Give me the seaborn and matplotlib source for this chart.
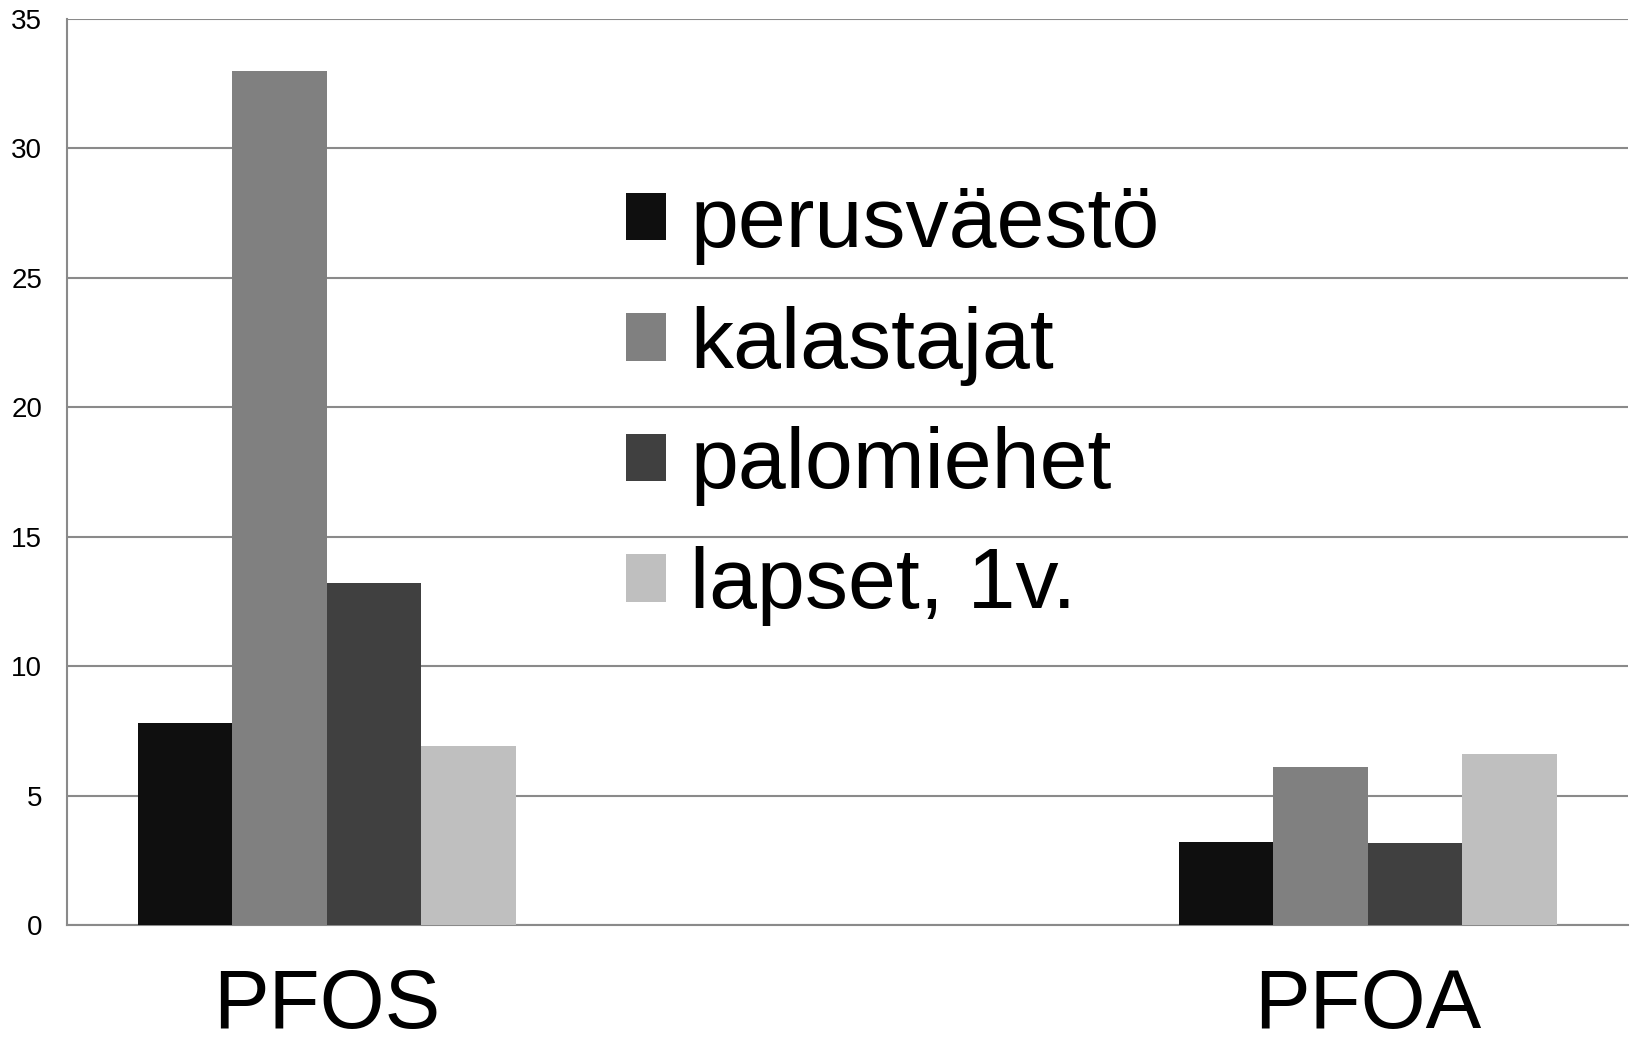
import pandas as pd
import numpy as np
import seaborn as sns
import matplotlib.pyplot as plt

aineet = ['PFOS', 'PFOA']
ryhmat = ['perusväestö', 'kalastajat', 'palomiehet', 'lapset, 1v.']
perusvaesto = [7.8, 3.2]
kalastajat = [33.0, 6.1]
palomiehet = [13.2, 3.15]
lapset = [6.9, 6.6]
varit = ['#0f0f0f', '#808080', '#404040', '#bfbfbf']
y_ticks = [0, 5, 10, 15, 20, 25, 30, 35]

df = pd.DataFrame({
    'aine': aineet * 4,
    'ryhma': np.repeat(ryhmat, 2),
    'arvo': perusvaesto + kalastajat + palomiehet + lapset,
})

sns.set_style('white')
plt.rcParams['font.family'] = ['Liberation Sans', 'DejaVu Sans']
plt.rcParams['text.color'] = 'black'
plt.rcParams['xtick.color'] = 'black'
plt.rcParams['ytick.color'] = 'black'

fig = plt.figure(figsize=(16.34, 10.43), dpi=100)
ax = fig.add_axes([0.0408, 0.1131, 0.9555, 0.8687])

sns.barplot(data=df, x='aine', y='arvo', hue='ryhma', hue_order=ryhmat,
            palette=varit, saturation=1, width=0.363, gap=0,
            linewidth=0, ax=ax, zorder=3)

gray = '#8a8a8a'
ax.set_ylim(0, 35)
ax.set_xlim(-0.25, 1.25)
ax.set_yticks(y_ticks)
ax.yaxis.grid(True, color=gray, linewidth=1.5, zorder=0)
ax.set_axisbelow(True)
for side in ['top', 'right']:
    ax.spines[side].set_visible(False)
for side in ['left', 'bottom']:
    ax.spines[side].set_color(gray)
    ax.spines[side].set_linewidth(1.5)
ax.tick_params(axis='y', length=6.5, width=1.5, color=gray, labelcolor='black',
               labelsize=20, pad=11)
ax.tick_params(axis='x', length=0, labelcolor='black', labelsize=60, pad=30)
ax.set_xlabel('')
ax.set_ylabel('')

leg = ax.legend(loc='upper left', bbox_to_anchor=(0.383, 0.8226),
                bbox_transform=fig.transFigure, frameon=False, fontsize=62,
                handlelength=0.47, handleheight=0.47, handletextpad=0.28,
                labelspacing=0.47, borderpad=0, borderaxespad=0, title=None)
for t in leg.get_texts():
    t.set_color('black')

plt.savefig('out.png', dpi=100)
